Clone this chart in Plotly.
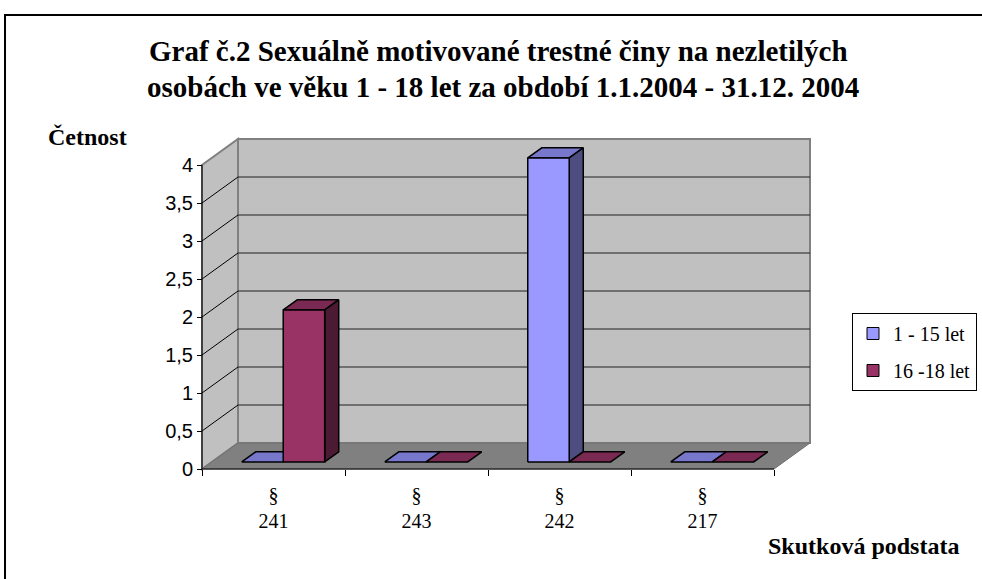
import plotly.graph_objects as go

# ---------------- data ----------------
categories = ["§<br>241", "§<br>243", "§<br>242", "§<br>217"]
series_names = ["1 - 15 let", "16 -18 let"]
values_1_15 = [0, 0, 4, 0]
values_16_18 = [2, 0, 0, 0]
y_ticks = [0, 0.5, 1, 1.5, 2, 2.5, 3, 3.5, 4]

title_lines = ["<b>Graf č.2 Sexuálně motivované trestné činy na nezletilých</b>",
               "<b>osobách ve věku 1 - 18 let za období 1.1.2004 - 31.12. 2004</b>"]
y_title = "<b>Četnost</b>"
x_title = "<b>Skutková podstata</b>"

# ---------------- styling / geometry ----------------
W, H = 982, 579
L, R, T, B = 194, 164, 131, 102
PXX, PXY = 143.0, 76.0          # pixels per category / per unit
PAD = 8.0
DX = 36 / PXX                    # depth offset (x, in category units)
DY = 26 / PXY                    # depth offset (y, in value units)
D1, D2 = 0.27, 0.66              # bar front/back depth fractions
BAR_OFF = [0.21, 0.50]           # bar left edge within category
BAR_W = 0.29

front_cols = ["#9999FF", "#993366"]
top_cols = ["#7777CC", "#7A2952"]
side_cols = ["#4D4D80", "#4D1A33"]

n = len(categories)
ymax = max(y_ticks)
xr = [-PAD / PXX, n + DX + PAD / PXX]
yr = [-PAD / PXY, ymax + DY + PAD / PXY]

def fx(px):
    return (px - L) / (W - L - R)

def fy(py):
    return (H - B - py) / (H - T - B)

def path(pts):
    return "M " + " L ".join(f"{x},{y}" for x, y in pts) + " Z"

shapes = []
# back wall
shapes.append(dict(type="path", xref="x", yref="y", layer="below",
                   path=path([(DX, DY), (n + DX, DY), (n + DX, ymax + DY), (DX, ymax + DY)]),
                   fillcolor="#C0C0C0", line=dict(color="#808080", width=2)))
# left wall
shapes.append(dict(type="path", xref="x", yref="y", layer="below",
                   path=path([(0, 0), (DX, DY), (DX, ymax + DY), (0, ymax)]),
                   fillcolor="#C0C0C0", line=dict(color="#808080", width=2)))
# floor
shapes.append(dict(type="path", xref="x", yref="y", layer="below",
                   path=path([(0, 0), (n, 0), (n + DX, DY), (DX, DY)]),
                   fillcolor="#808080", line=dict(color="#707070", width=1)))
# gridlines
for v in y_ticks:
    if v <= 0 or v >= ymax:
        continue
    shapes.append(dict(type="line", xref="x", yref="y", layer="below",
                       x0=0, y0=v, x1=DX, y1=v + DY, line=dict(color="black", width=1)))
    shapes.append(dict(type="line", xref="x", yref="y", layer="below",
                       x0=DX, y0=v + DY, x1=n + DX, y1=v + DY, line=dict(color="#202020", width=1)))
# axis lines
shapes.append(dict(type="line", xref="x", yref="y", layer="below",
                   x0=0, y0=0, x1=0, y1=ymax, line=dict(color="black", width=1)))
shapes.append(dict(type="line", xref="x", yref="y", layer="below",
                   x0=0, y0=0, x1=n, y1=0, line=dict(color="black", width=1)))
# outer frame
shapes.append(dict(type="rect", xref="paper", yref="paper",
                   x0=fx(5), y0=fy(600), x1=fx(1000), y1=fy(15),
                   line=dict(color="black", width=2), fillcolor="rgba(0,0,0,0)"))

fig = go.Figure()

def poly(xs, ys, color):
    fig.add_trace(go.Scatter(x=xs + [xs[0]], y=ys + [ys[0]], mode="lines",
                             fill="toself", fillcolor=color,
                             line=dict(color="black", width=1.5),
                             hoverinfo="skip", showlegend=False))

series = [values_1_15, values_16_18]
for i in range(n):
    for s, vals in enumerate(series):
        v = vals[i]
        x0 = i + BAR_OFF[s]
        x1 = x0 + BAR_W
        # top face
        poly([x0 + D1 * DX, x1 + D1 * DX, x1 + D2 * DX, x0 + D2 * DX],
             [v + D1 * DY, v + D1 * DY, v + D2 * DY, v + D2 * DY], top_cols[s])
        if v > 0:
            # side face
            poly([x1 + D1 * DX, x1 + D2 * DX, x1 + D2 * DX, x1 + D1 * DX],
                 [D1 * DY, D2 * DY, v + D2 * DY, v + D1 * DY], side_cols[s])
            # front face
            poly([x0 + D1 * DX, x1 + D1 * DX, x1 + D1 * DX, x0 + D1 * DX],
                 [D1 * DY, D1 * DY, v + D1 * DY, v + D1 * DY], front_cols[s])

# legend entries
for s, name in enumerate(series_names):
    fig.add_trace(go.Bar(x=[None], y=[None], name=name, legendgroup=f"g{s}",
                         marker=dict(color=front_cols[s], line=dict(color="black", width=1))))

annotations = [
    dict(text=title_lines[0], x=fx(498), y=fy(51), xref="paper", yref="paper",
         showarrow=False, xanchor="center", yanchor="middle",
         font=dict(family="Liberation Serif", size=29, color="black")),
    dict(text=title_lines[1], x=fx(503), y=fy(87), xref="paper", yref="paper",
         showarrow=False, xanchor="center", yanchor="middle",
         font=dict(family="Liberation Serif", size=29, color="black")),
    dict(text=y_title, x=fx(87), y=fy(137), xref="paper", yref="paper",
         showarrow=False, xanchor="center", yanchor="middle",
         font=dict(family="Liberation Serif", size=24, color="black")),
    dict(text=x_title, x=fx(863), y=fy(546), xref="paper", yref="paper",
         showarrow=False, xanchor="center", yanchor="middle",
         font=dict(family="Liberation Serif", size=24, color="black")),
]

fig.update_layout(
    width=W, height=H,
    margin=dict(l=L, r=R, t=T, b=B, autoexpand=False),
    paper_bgcolor="white", plot_bgcolor="white",
    separators=", ",
    shapes=shapes,
    xaxis=dict(range=xr, anchor="free", position=fy(469),
               tickmode="array", tickvals=[i + 0.5 for i in range(n)], ticktext=categories,
               ticks="", showgrid=False, zeroline=False, showline=False,
               ticklabelstandoff=12,
               tickfont=dict(family="Liberation Serif", size=20, color="black"),
               minor=dict(tickmode="array", tickvals=list(range(n + 1)), ticks="outside",
                          ticklen=6, tickcolor="black", tickwidth=1, showgrid=False)),
    yaxis=dict(range=yr, anchor="free", position=fx(202),
               tickmode="array", tickvals=y_ticks,
               ticks="outside", ticklen=5, tickcolor="black",
               showgrid=False, zeroline=False, showline=False,
               tickfont=dict(family="Liberation Sans", size=20, color="black")),
    legend=dict(x=fx(852), y=fy(313), xanchor="left", yanchor="top",
                bordercolor="black", borderwidth=1, bgcolor="white",
                font=dict(family="Liberation Serif", size=20, color="black"),
                traceorder="grouped", tracegroupgap=8),
    annotations=annotations,
)

fig.write_html("out.html", config={"displayModeBar": False},
               post_script="document.body.style.margin='0';")
